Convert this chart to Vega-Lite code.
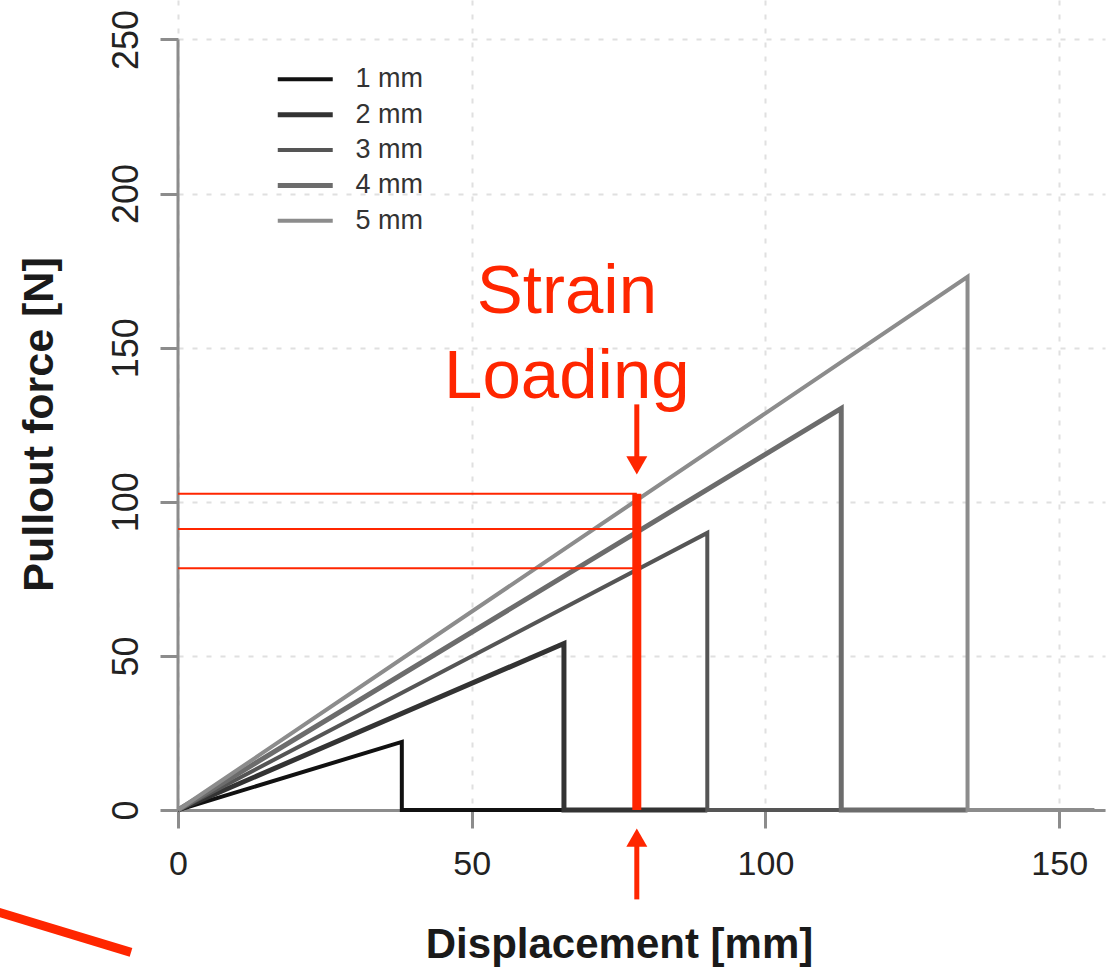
{
  "$schema": "https://vega.github.io/schema/vega-lite/v6.json",
  "width": 927,
  "height": 810,
  "autosize": {"type": "none"},
  "padding": {"left": 178, "top": 0, "right": 1, "bottom": 161},
  "background": "white",
  "config": {"view": {"stroke": null}, "font": "Liberation Sans"},
  "datasets": {
    "curves": [
      {"diameter": "1 mm", "displacement": 0, "force": 0, "i": 0},
      {"diameter": "1 mm", "displacement": 38.1, "force": 22.1, "i": 1},
      {"diameter": "1 mm", "displacement": 38.1, "force": 0, "i": 2},
      {"diameter": "1 mm", "displacement": 65.7, "force": 0, "i": 3},
      {"diameter": "2 mm", "displacement": 0, "force": 0, "i": 0},
      {"diameter": "2 mm", "displacement": 65.7, "force": 54.0, "i": 1},
      {"diameter": "2 mm", "displacement": 65.7, "force": 0, "i": 2},
      {"diameter": "2 mm", "displacement": 90.1, "force": 0, "i": 3},
      {"diameter": "3 mm", "displacement": 0, "force": 0, "i": 0},
      {"diameter": "3 mm", "displacement": 90.1, "force": 89.9, "i": 1},
      {"diameter": "3 mm", "displacement": 90.1, "force": 0, "i": 2},
      {"diameter": "3 mm", "displacement": 112.9, "force": 0, "i": 3},
      {"diameter": "4 mm", "displacement": 0, "force": 0, "i": 0},
      {"diameter": "4 mm", "displacement": 112.9, "force": 130.3, "i": 1},
      {"diameter": "4 mm", "displacement": 112.9, "force": 0, "i": 2},
      {"diameter": "4 mm", "displacement": 134.4, "force": 0, "i": 3},
      {"diameter": "5 mm", "displacement": 0, "force": 0, "i": 0},
      {"diameter": "5 mm", "displacement": 134.4, "force": 173.0, "i": 1},
      {"diameter": "5 mm", "displacement": 134.4, "force": 0, "i": 2},
      {"diameter": "5 mm", "displacement": 156, "force": 0, "i": 3}
    ],
    "readings": [
      {"force": 102.6},
      {"force": 91.2},
      {"force": 78.4}
    ],
    "one": [{}]
  },
  "layer": [
    {
      "data": {"name": "curves"},
      "mark": {"type": "line", "strokeCap": "butt", "strokeJoin": "miter"},
      "encoding": {
        "x": {
          "field": "displacement",
          "type": "quantitative",
          "scale": {"domain": [0, 157.8], "nice": false, "zero": false},
          "axis": {
            "values": [0, 50, 100, 150],
            "title": "Displacement [mm]",
            "grid": true,
            "gridColor": "#e0e0e0",
            "gridDash": [5, 9],
            "gridWidth": 2,
            "domainColor": "#8c8c8c",
            "domainWidth": 3,
            "tickColor": "#8c8c8c",
            "tickWidth": 3,
            "tickSize": 18,
            "labelFont": "Liberation Sans",
            "labelFontSize": 34,
            "labelColor": "#222",
            "labelBaseline": "alphabetic",
            "labelPadding": 46,
            "labelFlush": false,
            "labelAlign": "center",
            "titleFont": "Liberation Sans",
            "titleFontWeight": "bold",
            "titleFontSize": 42,
            "titleColor": "#1a1a1a",
            "titleX": 441,
            "titleY": 147,
            "titleBaseline": "alphabetic",
            "titleAlign": "center"
          }
        },
        "y": {
          "field": "force",
          "type": "quantitative",
          "scale": {"domain": [0, 262.8], "nice": false},
          "axis": {
            "values": [0, 50, 100, 150, 200, 250],
            "title": "Pullout force [N]",
            "domain": false,
            "grid": true,
            "gridColor": "#e0e0e0",
            "gridDash": [5, 9],
            "gridWidth": 2,
            "tickColor": "#8c8c8c",
            "tickWidth": 3,
            "tickSize": 18,
            "labelFont": "Liberation Sans",
            "labelFontSize": 36,
            "labelColor": "#222",
            "labelAngle": -90,
            "labelAlign": "center",
            "labelBaseline": "alphabetic",
            "labelPadding": 23,
            "labelFlush": false,
            "titleFont": "Liberation Sans",
            "titleFontWeight": "bold",
            "titleFontSize": 43,
            "titleColor": "#1a1a1a",
            "titleAngle": -90,
            "titleX": -126,
            "titleY": 424,
            "titleBaseline": "alphabetic",
            "titleAlign": "center"
          }
        },
        "color": {
          "field": "diameter",
          "type": "nominal",
          "scale": {
            "domain": ["1 mm", "2 mm", "3 mm", "4 mm", "5 mm"],
            "range": ["#111111", "#333333", "#555555", "#6c6c6c", "#8c8c8c"]
          },
          "legend": {
            "orient": "none",
            "legendX": 110.75,
            "legendY": 63.25,
            "title": null,
            "padding": 0,
            "symbolType": "M-2,0L2,0",
            "symbolSize": 756,
            "symbolStrokeWidth": 4,
            "labelFont": "Liberation Sans",
            "labelFontSize": 27,
            "labelColor": "#333",
            "labelOffset": 33.75,
            "rowPadding": 5.9,
            "encode": {
              "symbols": {
                "update": {
                  "strokeWidth": {"signal": "indexof(['2 mm','4 mm'], datum.value) >= 0 ? 5 : (datum.value === '1 mm' ? 4 : 3)"}
                }
              }
            }
          }
        },
        "strokeWidth": {
          "field": "diameter",
          "type": "nominal",
          "scale": {
            "type": "ordinal",
            "domain": ["1 mm", "2 mm", "3 mm", "4 mm", "5 mm"],
            "range": [4, 5, 4, 5, 4]
          },
          "legend": null
        },
        "order": {"field": "i", "type": "quantitative"}
      }
    },
    {
      "data": {"name": "one"},
      "mark": {"type": "rule", "color": "#8c8c8c", "strokeWidth": 3},
      "encoding": {
        "x": {"datum": 0},
        "y": {"datum": 0},
        "y2": {"datum": 250}
      }
    },
    {
      "data": {"name": "readings"},
      "mark": {"type": "rule", "color": "#ff2600", "strokeWidth": 2},
      "encoding": {
        "y": {"field": "force", "type": "quantitative"},
        "x": {"datum": 0},
        "x2": {"datum": 78.1}
      }
    },
    {
      "data": {"name": "one"},
      "mark": {"type": "rule", "color": "#ff2600", "strokeWidth": 9, "strokeCap": "butt"},
      "encoding": {
        "x": {"datum": 78.1},
        "y": {"datum": 0},
        "y2": {"datum": 102.6}
      }
    },
    {
      "data": {"name": "one"},
      "mark": {"type": "rule", "color": "#ff2600", "strokeWidth": 5, "strokeCap": "butt"},
      "encoding": {
        "x": {"datum": 78.1},
        "y": {"datum": 131.6},
        "y2": {"datum": 111.8}
      }
    },
    {
      "data": {"name": "one"},
      "mark": {"type": "point", "shape": "triangle-down", "filled": true, "size": 441, "color": "#ff2600", "opacity": 1, "strokeWidth": 0},
      "encoding": {
        "x": {"datum": 78.1},
        "y": {"datum": 111.8}
      }
    },
    {
      "data": {"name": "one"},
      "mark": {"type": "rule", "color": "#ff2600", "strokeWidth": 5, "strokeCap": "butt"},
      "encoding": {
        "x": {"datum": 78.1},
        "y": {"datum": -29},
        "y2": {"datum": -9}
      }
    },
    {
      "data": {"name": "one"},
      "mark": {"type": "point", "shape": "triangle-up", "filled": true, "size": 441, "color": "#ff2600", "opacity": 1, "strokeWidth": 0},
      "encoding": {
        "x": {"datum": 78.1},
        "y": {"datum": -8.95}
      }
    },
    {
      "data": {"name": "one"},
      "mark": {"type": "text", "text": ["Strain", "Loading"], "font": "Liberation Sans", "fontSize": 69, "lineHeight": 85, "align": "center", "baseline": "alphabetic", "color": "#ff2600"},
      "encoding": {
        "x": {"datum": 66.2},
        "y": {"datum": 161.4}
      }
    },
    {
      "data": {"name": "one"},
      "mark": {"type": "rule", "color": "#ff2600", "strokeWidth": 9, "strokeCap": "butt"},
      "encoding": {
        "x": {"datum": -32},
        "y": {"datum": -32.3},
        "x2": {"datum": -8},
        "y2": {"datum": -46.2}
      }
    }
  ]
}
